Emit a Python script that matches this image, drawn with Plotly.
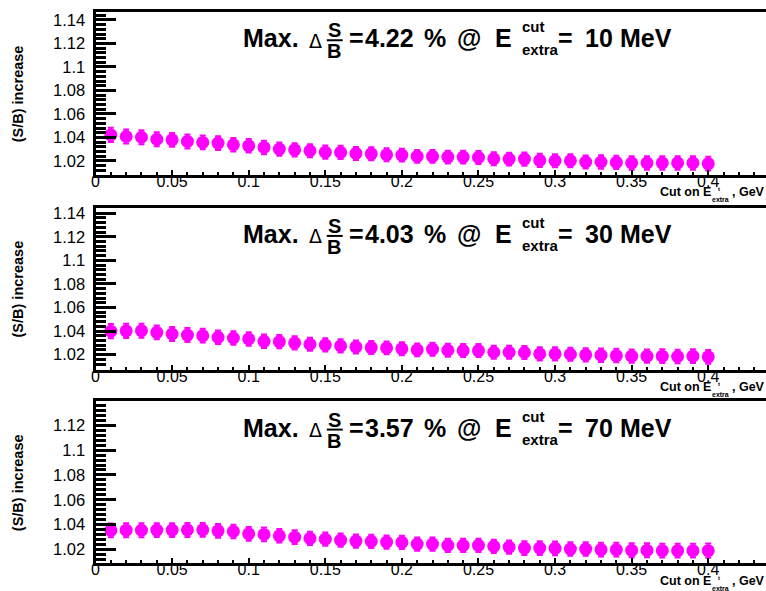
import plotly.graph_objects as go

W, H = 766, 591
FONT = "Liberation Sans, Arial, Helvetica, sans-serif"
MAGENTA = "#ff00ff"

# ---- data -------------------------------------------------------------
cut_gev = [0.01, 0.02, 0.03, 0.04, 0.05, 0.06, 0.07, 0.08, 0.09, 0.10,
           0.11, 0.12, 0.13, 0.14, 0.15, 0.16, 0.17, 0.18, 0.19, 0.20,
           0.21, 0.22, 0.23, 0.24, 0.25, 0.26, 0.27, 0.28, 0.29, 0.30,
           0.31, 0.32, 0.33, 0.34, 0.35, 0.36, 0.37, 0.38, 0.39, 0.40]

sb_ecut10 = [1.0422, 1.0408, 1.0402, 1.0385, 1.0380, 1.0366, 1.0358, 1.0352, 1.0338, 1.0329,
             1.0315, 1.0301, 1.0295, 1.0287, 1.0275, 1.0273, 1.0264, 1.0261, 1.0253, 1.0250,
             1.0239, 1.0239, 1.0233, 1.0233, 1.0230, 1.0219, 1.0216, 1.0216, 1.0205, 1.0202,
             1.0202, 1.0191, 1.0191, 1.0188, 1.0183, 1.0183, 1.0183, 1.0183, 1.0183, 1.0177]
err_ecut10 = [0.0061, 0.0060, 0.0060, 0.0059, 0.0059, 0.0059, 0.0058, 0.0058, 0.0058, 0.0057,
              0.0057, 0.0057, 0.0056, 0.0056, 0.0056, 0.0056, 0.0055, 0.0055, 0.0055, 0.0055,
              0.0055, 0.0055, 0.0055, 0.0055, 0.0055, 0.0055, 0.0055, 0.0056, 0.0056, 0.0056,
              0.0056, 0.0056, 0.0057, 0.0057, 0.0057, 0.0057, 0.0058, 0.0058, 0.0058, 0.0059]

sb_ecut30 = [1.0399, 1.0401, 1.0403, 1.0389, 1.0375, 1.0366, 1.0361, 1.0347, 1.0341, 1.0333,
             1.0313, 1.0310, 1.0299, 1.0288, 1.0282, 1.0274, 1.0265, 1.0260, 1.0257, 1.0249,
             1.0240, 1.0246, 1.0237, 1.0234, 1.0234, 1.0220, 1.0220, 1.0218, 1.0206, 1.0206,
             1.0203, 1.0198, 1.0195, 1.0192, 1.0187, 1.0187, 1.0187, 1.0184, 1.0187, 1.0181]
err_ecut30 = [0.0060, 0.0060, 0.0060, 0.0059, 0.0059, 0.0059, 0.0058, 0.0058, 0.0058, 0.0057,
              0.0057, 0.0057, 0.0056, 0.0056, 0.0056, 0.0056, 0.0055, 0.0055, 0.0055, 0.0055,
              0.0055, 0.0055, 0.0055, 0.0055, 0.0055, 0.0055, 0.0055, 0.0056, 0.0056, 0.0056,
              0.0056, 0.0056, 0.0057, 0.0057, 0.0057, 0.0057, 0.0058, 0.0058, 0.0058, 0.0059]

sb_ecut70 = [1.0353, 1.0354, 1.0354, 1.0355, 1.0355, 1.0356, 1.0357, 1.0349, 1.0344, 1.0325,
             1.0320, 1.0309, 1.0298, 1.0288, 1.0282, 1.0274, 1.0266, 1.0264, 1.0258, 1.0256,
             1.0242, 1.0242, 1.0232, 1.0232, 1.0232, 1.0224, 1.0218, 1.0210, 1.0210, 1.0208,
             1.0202, 1.0202, 1.0197, 1.0197, 1.0192, 1.0192, 1.0189, 1.0189, 1.0189, 1.0189]
err_ecut70 = [0.0056, 0.0056, 0.0056, 0.0056, 0.0056, 0.0056, 0.0056, 0.0055, 0.0055, 0.0055,
              0.0055, 0.0055, 0.0055, 0.0054, 0.0054, 0.0054, 0.0054, 0.0054, 0.0054, 0.0054,
              0.0054, 0.0054, 0.0054, 0.0054, 0.0054, 0.0054, 0.0054, 0.0055, 0.0055, 0.0055,
              0.0055, 0.0055, 0.0055, 0.0055, 0.0056, 0.0056, 0.0056, 0.0056, 0.0056, 0.0057]

ytick_vals = [1.02, 1.04, 1.06, 1.08, 1.10, 1.12, 1.14]
ytick_text = ["1.02", "1.04", "1.06", "1.08", "1.1", "1.12", "1.14"]
xtick_vals = [0, 0.05, 0.10, 0.15, 0.20, 0.25, 0.30, 0.35, 0.40]
xtick_text = ["0", "0.05", "0.1", "0.15", "0.2", "0.25", "0.3", "0.35", "0.4"]

y_title = "(S/B) increase"

# ---- pad geometry (pixels) and axis ranges ---------------------------
panels = [
    dict(y=sb_ecut10, err=err_ecut10, top=8, bottom=172, yrange=[1.0082, 1.1468]),
    dict(y=sb_ecut30, err=err_ecut30, top=205, bottom=368, yrange=[1.00735, 1.1448]),
    dict(y=sb_ecut70, err=err_ecut70, top=400, bottom=563, yrange=[1.0088, 1.1394]),
]
X_LEFT = 92
X_RANGE = [0, 0.4377]


def px(x):
    return x / W


def py(y):
    return 1 - y / H


fig = go.Figure()
annotations = []
shapes = []


def text(s, x, y, size, anchor="left", bold=True, angle=0, family=FONT):
    annotations.append(dict(
        text=f"<b>{s}</b>" if bold else s,
        x=px(x), y=py(y), xref="paper", yref="paper",
        xanchor=anchor, yanchor="middle", showarrow=False,
        borderpad=0, textangle=angle,
        font=dict(family=family, size=size, color="black"),
    ))


for i, p in enumerate(panels, start=1):
    sfx = "" if i == 1 else str(i)
    fig.add_trace(go.Scatter(
        x=cut_gev, y=p["y"], mode="markers",
        xaxis=f"x{sfx}", yaxis=f"y{sfx}",
        marker=dict(symbol="circle", size=13, color=MAGENTA, line=dict(width=0)),
        error_y=dict(type="data", array=p["err"], visible=True,
                     color=MAGENTA, thickness=2, width=3),
        showlegend=False, hoverinfo="skip",
    ))

    fig.layout[f"xaxis{sfx}"] = dict(
        domain=[px(X_LEFT), 1], range=X_RANGE, anchor=f"y{sfx}",
        showline=True, linewidth=3, linecolor="black", mirror=True,
        showgrid=False, zeroline=False,
        ticks="inside", ticklen=5, tickwidth=2, tickcolor="black",
        tickmode="array", tickvals=xtick_vals, ticktext=xtick_text,
        tickfont=dict(family=FONT, size=16, color="black"),
        ticklabelstandoff=-10,
        minor=dict(ticks="inside", ticklen=3, tickwidth=2, tickcolor="black",
                   tickmode="linear", tick0=0, dtick=0.01, showgrid=False),
    )
    fig.layout[f"yaxis{sfx}"] = dict(
        domain=[py(p["bottom"]), py(p["top"])], range=p["yrange"], anchor=f"x{sfx}",
        showline=True, linewidth=3, linecolor="black", mirror=False,
        showgrid=False, zeroline=False,
        ticks="inside", ticklen=20, tickwidth=2.5, tickcolor="black",
        tickmode="array", tickvals=ytick_vals, ticktext=ytick_text,
        tickfont=dict(family=FONT, size=16.5, color="black"),
        ticklabelstandoff=4,
        minor=dict(ticks="inside", ticklen=10, tickwidth=2.5, tickcolor="black",
                   tickmode="linear", tick0=1.0, dtick=0.004, showgrid=False),
    )

    # maximum S/B gain and the cut where it occurs
    ymax = max(p["y"])
    xmax = cut_gev[p["y"].index(ymax)]
    pct = f"{(ymax - 1) * 100:.2f}"
    mev = f"{round(xmax * 1000)}"

    t = p["top"] - 2
    text("Max.", 239, t + 28.7, 25)
    text("\u0394", 306, t + 31, 19, bold=False, family="DejaVu Sans")
    text("S", 332, t + 20.5, 20, anchor="center")
    shapes.append(dict(type="line", xref="paper", yref="paper",
                       x0=px(324.5), x1=px(340.5), y0=py(t + 30.5), y1=py(t + 30.5),
                       line=dict(color="black", width=2)))
    text("B", 332, t + 41.5, 20, anchor="center")
    text("=", 346, t + 28.7, 25)
    text(pct, 362, t + 28.7, 25)
    text("%", 421, t + 28.7, 25)
    text("@", 454, t + 28.7, 25)
    text("E", 493, t + 28.7, 25)
    text("cut", 520, t + 17.1, 15)
    text("extra", 520, t + 40.1, 15)
    text("=", 556, t + 28.7, 25)
    text(mev, 583, t + 28.7, 25)
    text("MeV", 618, t + 28.7, 25)

    # axis titles
    b = p["bottom"]
    text("Cut on E", 658, b + 17.5, 12.5)
    text("t", 717, b + 14.5, 6)
    text("extra", 711, b + 25, 7)
    text(", GeV", 731, b + 17.5, 12.5)
    text(y_title, 14, (p["top"] + p["bottom"]) / 2, 14.5, anchor="center", angle=-90)

fig.update_layout(
    width=W, height=H,
    margin=dict(l=0, r=0, t=0, b=0),
    paper_bgcolor="white", plot_bgcolor="white",
    showlegend=False,
    annotations=annotations, shapes=shapes,
    font=dict(family=FONT, color="black"),
)

fig.write_html("out.html", config={"displayModeBar": False})
